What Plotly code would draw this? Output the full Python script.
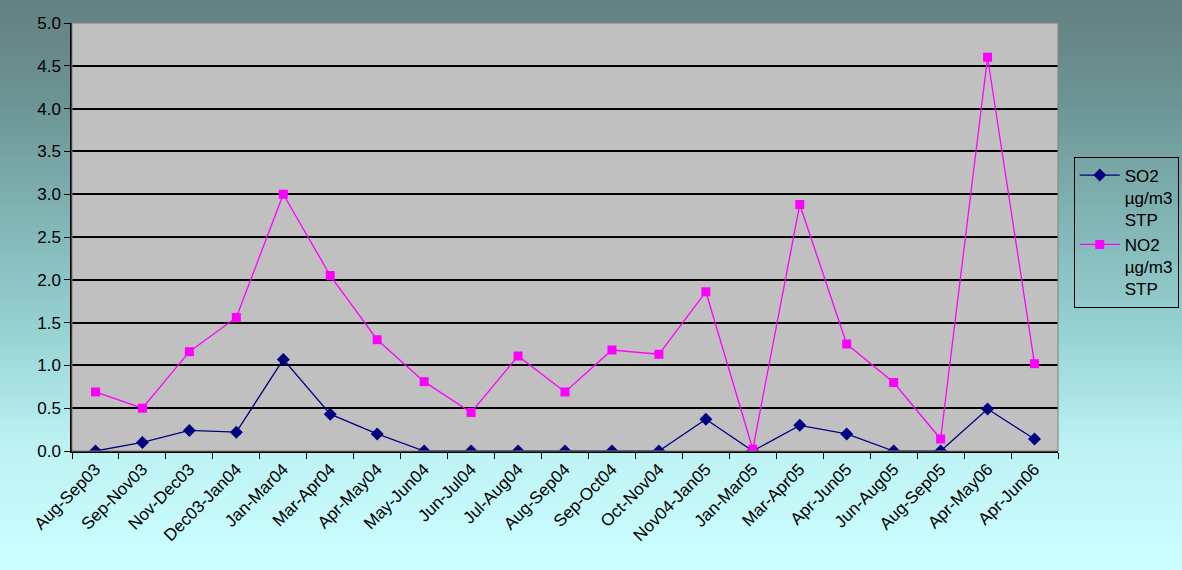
import plotly.graph_objects as go

categories = ["Aug-Sep03", "Sep-Nov03", "Nov-Dec03", "Dec03-Jan04", "Jan-Mar04", "Mar-Apr04",
              "Apr-May04", "May-Jun04", "Jun-Jul04", "Jul-Aug04", "Aug-Sep04", "Sep-Oct04",
              "Oct-Nov04", "Nov04-Jan05", "Jan-Mar05", "Mar-Apr05", "Apr-Jun05", "Jun-Aug05",
              "Aug-Sep05", "Apr-May06", "Apr-Jun06"]
so2 = [0.0, 0.10, 0.24, 0.22, 1.07, 0.43, 0.20, 0.0, 0.0, 0.0, 0.0, 0.0,
       0.0, 0.37, 0.0, 0.30, 0.20, 0.0, 0.0, 0.49, 0.14]
no2 = [0.69, 0.50, 1.16, 1.56, 3.00, 2.05, 1.30, 0.81, 0.45, 1.11, 0.69, 1.18,
       1.13, 1.86, 0.02, 2.88, 1.25, 0.80, 0.14, 4.60, 1.02]
yticks = [0.0, 0.5, 1.0, 1.5, 2.0, 2.5, 3.0, 3.5, 4.0, 4.5, 5.0]

W, H = 1182, 570
L, R, T, B = 72, 1182 - 1058, 23, 570 - 451
pw, ph = W - L - R, H - T - B

fig = go.Figure()
fig.add_trace(go.Scatter(x=categories, y=so2, name="SO2<br>µg/m3<br>STP", mode="lines+markers",
                         line=dict(color="#000080", width=1.3),
                         marker=dict(symbol="diamond", size=10, color="#000080")))
fig.add_trace(go.Scatter(x=categories, y=no2, name="NO2<br>µg/m3<br>STP", mode="lines+markers",
                         line=dict(color="#FF00FF", width=1.3),
                         marker=dict(symbol="square", size=9, color="#FF00FF")))

# background gradient (style only)
stops = [(0, (100, 128, 128)), (100, (108, 148, 148)), (330, (150, 210, 210)),
         (450, (190, 243, 243)), (570, (204, 255, 255))]
def col(py):
    for (a, ca), (b, cb) in zip(stops[:-1], stops[1:]):
        if a <= py <= b:
            t = (py - a) / (b - a)
            return "rgb(%d,%d,%d)" % tuple(round(ca[i] + (cb[i] - ca[i]) * t) for i in range(3))
    return "rgb(204,255,255)"
shapes = []
step = 6
for py in range(0, H, step):
    y0 = (H - B - (py + step + 1)) / ph
    y1 = (H - B - py) / ph
    shapes.append(dict(type="rect", xref="paper", yref="paper", x0=-L / pw - 0.01, x1=(W - L) / pw + 0.01,
                       y0=y0, y1=y1, fillcolor=col(py + step / 2), line=dict(width=0), layer="below"))
shapes.append(dict(type="rect", xref="paper", yref="paper", x0=0, x1=1, y0=0, y1=1,
                   fillcolor="#C0C0C0", line=dict(width=0), layer="below"))
shapes.append(dict(type="rect", xref="paper", yref="paper", x0=0, x1=1, y0=0, y1=1,
                   line=dict(color="#808080", width=1), layer="above"))

fig.update_layout(
    width=W, height=H,
    margin=dict(l=L, r=R, t=T, b=B, autoexpand=False),
    paper_bgcolor="rgb(204,255,255)",
    plot_bgcolor="#C0C0C0",
    font=dict(family="Liberation Sans, Arial, sans-serif", size=17, color="#000000"),
    shapes=shapes,
    showlegend=True,
    legend=dict(x=1.016, y=0.688, xanchor="left", yanchor="top", bgcolor="rgba(0,0,0,0)",
                bordercolor="#000000", borderwidth=1, font=dict(size=17), tracegroupgap=4,
                valign="top", itemwidth=40),
    xaxis=dict(type="category", tickangle=-45, showgrid=False, showline=True, linecolor="#000000",
               linewidth=1.5, ticks="outside", tickson="boundaries", ticklen=6, tickcolor="#000000",
               tickfont=dict(size=17), range=[-0.5, len(categories) - 0.5], automargin=False),
    yaxis=dict(range=[0, 5], tickvals=yticks, ticktext=["%.1f" % v for v in yticks],
               showgrid=True, gridcolor="#000000", gridwidth=1.5, showline=True, linecolor="#000000",
               linewidth=1.5, ticks="outside", ticklen=6, tickcolor="#000000", zeroline=False,
               tickfont=dict(size=17), automargin=False),
)
fig.write_html("out.html", config={"displayModeBar": False},
               post_script="document.body.style.margin='0px';")
